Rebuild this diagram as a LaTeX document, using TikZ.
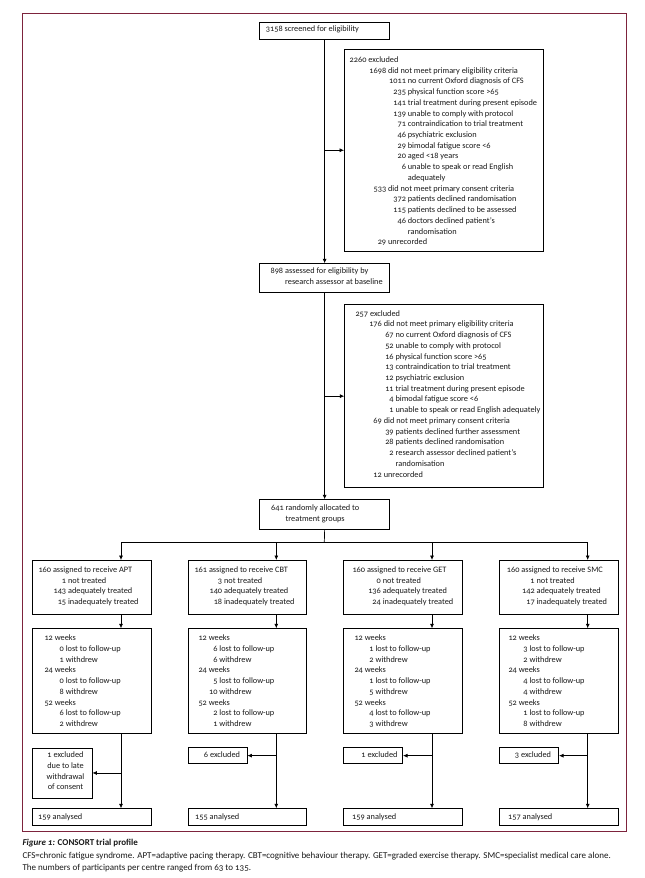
\documentclass[tikz,border=0pt]{standalone}
\usepackage{fontspec}
\setmainfont[Numbers=OldStyle]{Carlito}
\usetikzlibrary{arrows.meta}
\definecolor{framecol}{RGB}{125,35,60}
\definecolor{ink}{RGB}{25,25,25}
\newcommand\nm[2]{\hspace*{#1pt}\makebox[0pt][r]{#2}\ }
\newcommand\tb[2]{\parbox[t]{#1}{\raggedright #2}}
\newcommand\bx[5]{\node[boxst,anchor=north west,minimum width=#4pt,minimum height=#5pt] (#1) at (#2,#3) {};}
\tikzset{
  boxst/.style={draw=black,line width=0.7pt,inner sep=0pt,fill=white},
  txt/.style={inner sep=0pt,anchor=base west,text=ink,font=\fontsize{8.3pt}{10.72pt}\selectfont},
  ctxt/.style={txt,anchor=base},
  captxt/.style={inner sep=0pt,anchor=base west,text=ink,font=\fontsize{9pt}{12pt}\selectfont},
  arr/.style={line width=0.7pt,-{Latex[length=4.5pt,width=4pt]}},
  ln/.style={line width=0.7pt}
}
\begin{document}
\begin{tikzpicture}[x=1pt,y=-1pt]
\useasboundingbox[fill=white] (0,0) rectangle (645,878);
\draw[framecol,line width=1pt] (22.3,13.3) rectangle (626.5,831.7);

% main column boxes
\bx{scr}{259.3}{22.3}{130}{16.4}
\bx{exa}{344}{49.3}{198.5}{201.2}
\bx{ass}{259.3}{263.3}{130}{28.4}
\bx{exb}{344.3}{304.3}{198.4}{183}
\bx{rnd}{259.3}{499.3}{130}{30}

\node[txt] (tscr) at (265.7,31.8) {3158 screened for eligibility};
\node[txt] (texa) at (349.5,62.5) {\tb{200pt}{%
2260 excluded\\
\nm{36.5}{1698}did not meet primary eligibility criteria\\
\nm{56.3}{1011}no current Oxford diagnosis of CFS\\
\nm{56.3}{235}physical function score >65\\
\nm{56.3}{141}trial treatment during present episode\\
\nm{56.3}{139}unable to comply with protocol\\
\nm{56.3}{71}contraindication to trial treatment\\
\nm{56.3}{46}psychiatric exclusion\\
\nm{56.3}{29}bimodal fatigue score <6\\
\nm{56.3}{20}aged <18 years\\
\nm{56.3}{6}unable to speak or read English\\
\nm{56.3}{}adequately\\
\nm{36.5}{533}did not meet primary consent criteria\\
\nm{56.3}{372}patients declined randomisation\\
\nm{56.3}{115}patients declined to be assessed\\
\nm{56.3}{46}doctors declined patient’s\\
\nm{56.3}{}randomisation\\
\nm{36.5}{29}unrecorded}};
\node[txt] (tass) at (270,273.5) {\tb{125pt}{%
\nm{13}{898}assessed for eligibility by\\
\nm{13}{}research assessor at baseline}};
\node[txt] (texb) at (355.3,316.2) {\tb{190pt}{%
257 excluded\\
\nm{26.4}{176}did not meet primary eligibility criteria\\
\nm{38.2}{67}no current Oxford diagnosis of CFS\\
\nm{38.2}{52}unable to comply with protocol\\
\nm{38.2}{16}physical function score >65\\
\nm{38.2}{13}contraindication to trial treatment\\
\nm{38.2}{12}psychiatric exclusion\\
\nm{38.2}{11}trial treatment during present episode\\
\nm{38.2}{4}bimodal fatigue score <6\\
\nm{38.2}{1}unable to speak or read English adequately\\
\nm{26.4}{69}did not meet primary consent criteria\\
\nm{38.2}{39}patients declined further assessment\\
\nm{38.2}{28}patients declined randomisation\\
\nm{38.2}{2}research assessor declined patient’s\\
\nm{38.2}{}randomisation\\
\nm{26.4}{12}unrecorded}};
\node[txt] (trnd) at (269.3,510.5) {\tb{125pt}{%
\nm{14.3}{641}randomly allocated to\\
\nm{14.3}{}treatment groups}};

% main connectors
\draw[arr] (scr.south) -- (ass.north);
\draw[arr] (scr.south |- exa.west) -- (exa.west);
\draw[arr] (ass.south) -- (rnd.north);
\draw[arr] (ass.south |- exb.west) -- (exb.west);

% split
\coordinate (sp) at (324.3,542);
\coordinate (cA) at (121,542);
\coordinate (cB) at (276.3,542);
\coordinate (cC) at (432,542);
\coordinate (cD) at (587.7,542);
\draw[ln] (rnd.south) -- (sp);
\draw[ln] (cA) -- (cD);

% group boxes
\bx{gA}{32.3}{560}{118.4}{54.3}
\bx{gB}{187.7}{560}{118.6}{54.3}
\bx{gC}{343.3}{560}{118.4}{54.3}
\bx{gD}{499.3}{560}{118.4}{54.3}
\bx{fA}{32.3}{628.3}{118.4}{105}
\bx{fB}{187.7}{628.3}{118.6}{105}
\bx{fC}{343.3}{628.3}{118.4}{105}
\bx{fD}{499.3}{628.3}{118.4}{105}
\bx{xA}{32.3}{747.7}{59.4}{49.8}
\bx{xB}{187.7}{747.3}{59}{16}
\bx{xC}{343.3}{747.3}{59}{16}
\bx{xD}{499.3}{747.3}{59}{16}
\bx{aA}{32.3}{808.3}{118.4}{17}
\bx{aB}{187.7}{808.3}{118.6}{17}
\bx{aC}{343.3}{808.3}{118.4}{17}
\bx{aD}{499.3}{808.3}{118.4}{17}

\node[txt] (tgA) at (38.3,572.5) {\tb{112pt}{160 assigned to receive APT\\\nm{27.7}{1}not treated\\\nm{27.7}{143}adequately treated\\\nm{27.7}{15}inadequately treated}};
\node[txt] (tgB) at (194.3,572.5) {\tb{112pt}{161 assigned to receive CBT\\\nm{27.7}{3}not treated\\\nm{27.7}{140}adequately treated\\\nm{27.7}{18}inadequately treated}};
\node[txt] (tgC) at (352.3,572.5) {\tb{108pt}{160 assigned to receive GET\\\nm{28.4}{0}not treated\\\nm{28.4}{136}adequately treated\\\nm{28.4}{24}inadequately treated}};
\node[txt] (tgD) at (506.7,572.5) {\tb{110pt}{160 assigned to receive SMC\\\nm{27.8}{1}not treated\\\nm{27.8}{142}adequately treated\\\nm{27.8}{17}inadequately treated}};

\node[txt] (tfA) at (44.3,640.8) {\tb{100pt}{12 weeks\\\nm{19.4}{0}lost to follow-up\\\nm{19.4}{1}withdrew\\24 weeks\\\nm{19.4}{0}lost to follow-up\\\nm{19.4}{8}withdrew\\52 weeks\\\nm{19.4}{6}lost to follow-up\\\nm{19.4}{2}withdrew}};
\node[txt] (tfB) at (198.3,640.8) {\tb{100pt}{12 weeks\\\nm{19}{6}lost to follow-up\\\nm{19}{6}withdrew\\24 weeks\\\nm{19}{5}lost to follow-up\\\nm{19}{10}withdrew\\52 weeks\\\nm{19}{2}lost to follow-up\\\nm{19}{1}withdrew}};
\node[txt] (tfC) at (354.3,640.8) {\tb{100pt}{12 weeks\\\nm{19.2}{1}lost to follow-up\\\nm{19.2}{2}withdrew\\24 weeks\\\nm{19.2}{1}lost to follow-up\\\nm{19.2}{5}withdrew\\52 weeks\\\nm{19.2}{4}lost to follow-up\\\nm{19.2}{3}withdrew}};
\node[txt] (tfD) at (508.3,640.8) {\tb{100pt}{12 weeks\\\nm{19.2}{3}lost to follow-up\\\nm{19.2}{2}withdrew\\24 weeks\\\nm{19.2}{4}lost to follow-up\\\nm{19.2}{4}withdrew\\52 weeks\\\nm{19.2}{1}lost to follow-up\\\nm{19.2}{8}withdrew}};

\node[ctxt] (txA) at (65.5,757.8) {\parbox[t]{58pt}{\centering 1 excluded\\due to late\\withdrawal\\of consent}};
\node[ctxt] (txB) at (222,757.8) {6 excluded};
\node[ctxt] (txC) at (379.5,757.8) {1 excluded};
\node[ctxt] (txD) at (533,757.8) {3 excluded};

\node[txt] (taA) at (38,819.8) {159 analysed};
\node[txt] (taB) at (195,819.8) {155 analysed};
\node[txt] (taC) at (352,819.8) {159 analysed};
\node[txt] (taD) at (508,819.8) {157 analysed};

% group connectors
\foreach \c/\g in {A/A,B/B,C/C,D/D}{
  \draw[arr] (c\c) -- (c\c |- g\g.north);
  \draw[arr] (c\c |- g\g.south) -- (c\c |- f\g.north);
  \draw[arr] (c\c |- f\g.south) -- (c\c |- a\g.north);
  \draw[arr] (c\c |- x\g.east) -- (x\g.east);
}

% caption
\node[captxt] (cap1) at (22.3,845) {\textbf{\textit{Figure 1:} CONSORT trial profile}};
\node[captxt] (cap2) at (22.3,858) {CFS=chronic fatigue syndrome. APT=adaptive pacing therapy. CBT=cognitive behaviour therapy. GET=graded exercise therapy. SMC=specialist medical care alone.};
\node[captxt] (cap3) at (22.3,870.3) {The numbers of participants per centre ranged from 63 to 135.};
\end{tikzpicture}
\end{document}
